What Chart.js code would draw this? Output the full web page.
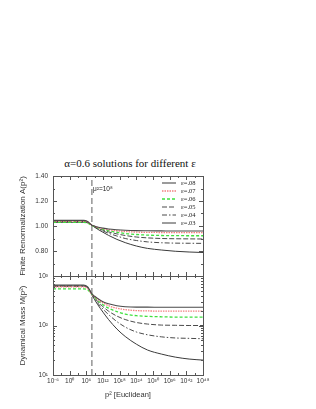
<!DOCTYPE html>
<html>
<head>
<meta charset="utf-8">
<script src="https://cdn.jsdelivr.net/npm/chart.js@4.4.1/dist/chart.umd.min.js"></script>
<style>
  body { margin:0; width:316px; height:409px; background:#fff; position:relative; overflow:hidden; }
  canvas { position:absolute; left:0; top:0; }
  #title { position:absolute; left:30px; width:200px; top:157px; text-align:center;
           font:11px "Liberation Serif", "DejaVu Serif", serif; line-height:13px; color:#111; }
</style>
</head>
<body>
<div id="title">α=0.6 solutions for different ε</div>
<canvas id="topPanel" width="316" height="409"></canvas>
<canvas id="botPanel" width="316" height="409"></canvas>
<script>
// valeurs (p^2 en echelle log)
const p2 = [1e-6, 1e5, 3e6, 1e8, 1e9, 1e10, 1e12, 1e14, 1e17, 1e20, 1e24, 1e28, 1e33, 1e38, 1e43, 1e48];
const epsLabels = ['ε=.08', 'ε=.07', 'ε=.06', 'ε=.05', 'ε=.04', 'ε=.03'];

// A(p^2)
const A08 = [1.045, 1.045, 1.036, 1.007, 0.999, 0.992, 0.983, 0.976, 0.970, 0.966, 0.963, 0.962, 0.961, 0.960, 0.960, 0.960];
const A07 = [1.040, 1.040, 1.032, 1.006, 0.997, 0.989, 0.978, 0.970, 0.962, 0.956, 0.951, 0.949, 0.948, 0.947, 0.947, 0.947];
const A06 = [1.030, 1.030, 1.024, 1.004, 0.995, 0.986, 0.973, 0.962, 0.950, 0.940, 0.932, 0.927, 0.924, 0.923, 0.922, 0.922];
const A05 = [1.035, 1.035, 1.028, 1.005, 0.994, 0.983, 0.967, 0.953, 0.937, 0.924, 0.912, 0.905, 0.900, 0.898, 0.897, 0.896];
const A04 = [1.035, 1.035, 1.028, 1.005, 0.992, 0.980, 0.960, 0.942, 0.920, 0.900, 0.884, 0.873, 0.866, 0.863, 0.862, 0.861];
const A03 = [1.030, 1.030, 1.025, 1.005, 0.990, 0.975, 0.950, 0.925, 0.893, 0.867, 0.840, 0.821, 0.808, 0.798, 0.792, 0.788];

// M(p^2)
const M08 = [660, 660, 603, 437, 389, 355, 302, 275, 251, 240, 235, 235, 234, 234, 234, 234];
const M07 = [603, 603, 562, 427, 380, 339, 288, 251, 224, 209, 200, 197, 195, 195, 195, 195];
const M06 = [550, 550, 525, 427, 372, 324, 263, 224, 191, 170, 158, 153, 150, 148, 148, 148];
const M05 = [631, 631, 589, 427, 363, 309, 240, 195, 155, 132, 115, 107, 102, 101, 100, 100];
const M04 = [617, 617, 575, 417, 347, 288, 214, 166, 120, 93, 74, 65, 59, 56, 55, 54];
const M03 = [631, 631, 589, 417, 331, 269, 186, 132, 85, 60, 42, 32, 26.5, 23, 21, 20];

const muP2 = 1e8;
const xTickExp = [-6, 0, 6, 12, 18, 24, 30, 36, 42, 48];
const aTicks = [0.8, 1.0, 1.2, 1.4];
const mTicks = [10, 100, 1000];

const styles = [
  {c:'#4a4a4a', w:1.1, d:[]},
  {c:'#f28080', w:1.3, d:[1.5,1]},
  {c:'#3ee03e', w:1.3, d:[3,2]},
  {c:'#4a4a4a', w:1, d:[5,2]},
  {c:'#4a4a4a', w:1, d:[5,2,1.5,2]},
  {c:'#3a3a3a', w:1, d:[]}
];

const supMap = {'-':'⁻','0':'⁰','1':'¹','2':'²','3':'³','4':'⁴','5':'⁵','6':'⁶','7':'⁷','8':'⁸','9':'⁹'};
function pow10Label(v){
  let e = Math.round(Math.log10(v));
  return '10' + String(e).split('').map(ch => supMap[ch]).join('');
}

function mkSets(series){
  let sets = series.map((ys, i) => ({
    label: epsLabels[i],
    data: p2.map((x, k) => ({x: x, y: ys[k]})),
    borderColor: styles[i].c,
    borderWidth: styles[i].w,
    borderDash: styles[i].d,
    cubicInterpolationMode: 'monotone',
    pointRadius: 0,
    fill: false
  }));
  return sets;
}

const sansFont = '"Liberation Sans", Arial, sans-serif';
const frameColor = '#555';

// cadre + petites graduations vers l'interieur
function frameTicks(yMinor){
  return {
    id: 'frameTicks',
    afterDraw(chart){
      const ctx = chart.ctx, a = chart.chartArea;
      const xs = chart.scales.x, ys = chart.scales.y;
      ctx.save();
      ctx.strokeStyle = frameColor;
      ctx.lineWidth = 1;
      ctx.setLineDash([]);
      ctx.beginPath();
      for(let e = -6; e <= 48; e += 3){
        let px = Math.round(xs.getPixelForValue(Math.pow(10, e))) + 0.5;
        let len = (e % 6 == 0) ? 4 : 2;
        ctx.moveTo(px, a.bottom); ctx.lineTo(px, a.bottom - len);
        ctx.moveTo(px, a.top); ctx.lineTo(px, a.top + len);
      }
      yMinor.forEach(t => {
        let py = Math.round(ys.getPixelForValue(t.v)) + 0.5;
        let len = t.major ? 4 : 2;
        ctx.moveTo(a.left, py); ctx.lineTo(a.left + len, py);
        ctx.moveTo(a.right, py); ctx.lineTo(a.right - len, py);
      });
      ctx.stroke();
      ctx.strokeRect(Math.round(a.left) + 0.5, Math.round(a.top) + 0.5, Math.round(a.right - a.left), Math.round(a.bottom - a.top));
      ctx.restore();
    }
  };
}

function fixAxisWidth(w){
  return function(scale){ scale.width = w; scale.paddingTop = 0; scale.paddingBottom = 0; };
}

// ---------- panneau du haut : A(p^2)
let aMinor = [];
for(let k = 6; k <= 14; k++) aMinor.push({v: k/10, major: k % 2 == 0});

let topSets = mkSets([A08, A07, A06, A05, A04, A03]);
topSets.push({label:'', data:[{x:muP2, y:0.6},{x:muP2, y:1.4}], borderColor:'#7a7a7a', borderWidth:1.2, borderDash:[6,3], pointRadius:0});

const legendPlugin = {
  id: 'legendInside',
  afterDatasetsDraw(chart){
    const ctx = chart.ctx;
    ctx.save();
    chart.data.datasets.forEach((ds, i) => {
      if(!ds.label) return;
      let y = 183 + i * 8;
      ctx.strokeStyle = ds.borderColor;
      ctx.lineWidth = ds.borderWidth;
      ctx.setLineDash(ds.borderDash);
      ctx.beginPath(); ctx.moveTo(162, y); ctx.lineTo(176, y); ctx.stroke();
      ctx.fillStyle = '#222';
      ctx.font = '6.5px "Liberation Serif", serif';
      ctx.textBaseline = 'middle';
      ctx.fillText(ds.label, 181, y);
    });
    ctx.setLineDash([]);
    ctx.fillStyle = '#222';
    ctx.font = '6.5px ' + sansFont;
    ctx.textBaseline = 'middle';
    ctx.fillText('μ²=10⁸', 93, 189);
    ctx.restore();
  }
};

new Chart(document.getElementById('topPanel'), {
  type: 'line',
  data: { datasets: topSets },
  options: {
    responsive: false, animation: false,
    layout: { padding: {left:0, top:176, right:113, bottom:133} },
    plugins: { legend:{display:false}, tooltip:{enabled:false} },
    scales: {
      x: { type:'logarithmic', min:1e-6, max:1e48, display:false },
      y: {
        type:'linear', min:0.6, max:1.4,
        afterBuildTicks: (s) => { s.ticks = aTicks.map(v => ({value:v})); },
        afterFit: fixAxisWidth(53),
        grid: { display:false, drawTicks:false },
        border: { display:false },
        ticks: { padding:5, color:'#333', font:{size:6.5, family:sansFont}, callback:(v) => Number(v).toFixed(2) },
        title: { display:true, text:'Finite Renormalization A(p²)', color:'#333', font:{size:8, family:sansFont}, padding:{top:18, bottom:0} }
      }
    }
  },
  plugins: [frameTicks(aMinor), legendPlugin]
});

// ---------- panneau du bas : M(p^2)
let mMinor = [];
[10, 100].forEach(d => { for(let m = 1; m <= 9; m++) mMinor.push({v: m*d, major: m == 1}); });
mMinor.push({v:1000, major:true});

let botSets = mkSets([M08, M07, M06, M05, M04, M03]);
botSets.push({label:'', data:[{x:muP2, y:10},{x:muP2, y:1000}], borderColor:'#7a7a7a', borderWidth:1.2, borderDash:[6,3], pointRadius:0});

new Chart(document.getElementById('botPanel'), {
  type: 'line',
  data: { datasets: botSets },
  options: {
    responsive: false, animation: false,
    layout: { padding: {left:0, top:276, right:113, bottom:0} },
    plugins: { legend:{display:false}, tooltip:{enabled:false} },
    scales: {
      x: {
        type:'logarithmic', min:1e-6, max:1e48,
        afterBuildTicks: (s) => { s.ticks = xTickExp.map(e => ({value: Math.pow(10, e)})); },
        afterFit: (s) => { s.height = 34; s.paddingLeft = 0; s.paddingRight = 0; },
        grid: { display:false, drawTicks:false },
        border: { display:false },
        ticks: { autoSkip:false, maxRotation:0, padding:2, color:'#333', font:{size:6.5, family:sansFont}, callback:(v) => pow10Label(v) },
        title: { display:true, text:'p² [Euclidean]', color:'#333', font:{size:7.5, family:sansFont}, padding:{top:0, bottom:10} }
      },
      y: {
        type:'logarithmic', min:10, max:1000,
        afterBuildTicks: (s) => { s.ticks = mTicks.map(v => ({value:v})); },
        afterFit: fixAxisWidth(53),
        grid: { display:false, drawTicks:false },
        border: { display:false },
        ticks: { padding:5, color:'#333', font:{size:6.5, family:sansFont}, callback:(v) => pow10Label(v) },
        title: { display:true, text:'Dynamical Mass M(p²)', color:'#333', font:{size:8, family:sansFont}, padding:{top:18, bottom:0} }
      }
    }
  },
  plugins: [frameTicks(mMinor)]
});
</script>
</body>
</html>
